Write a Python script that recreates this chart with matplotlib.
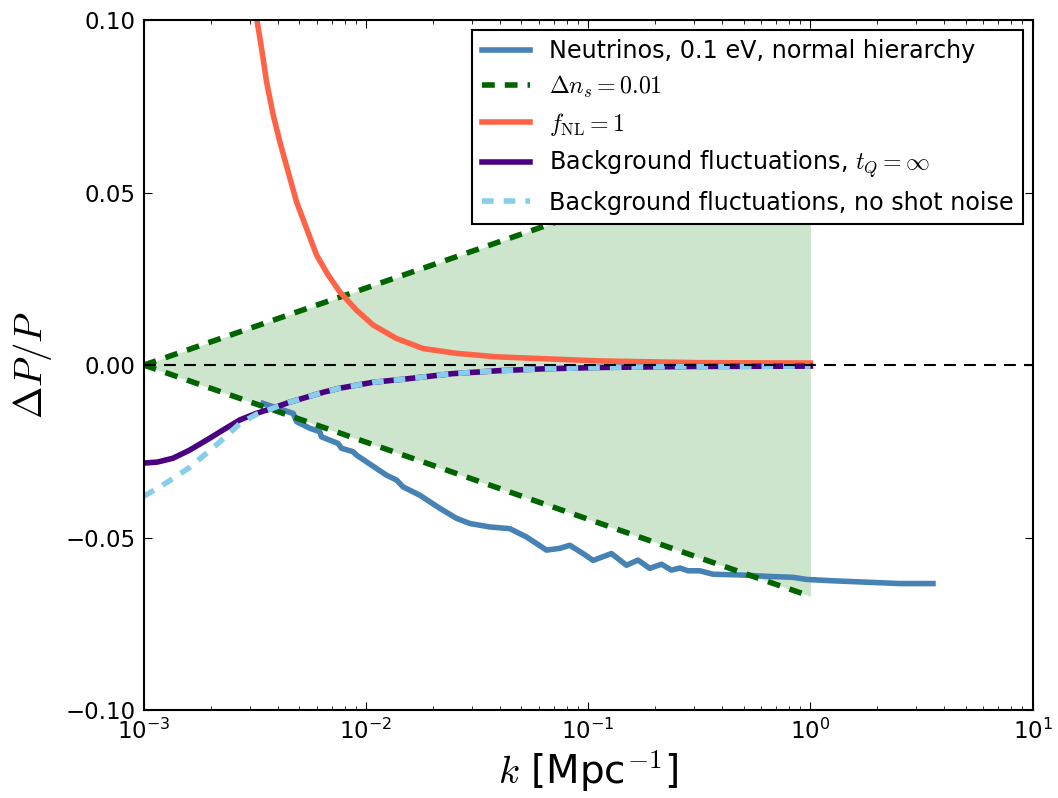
import matplotlib
matplotlib.use("Agg")
import matplotlib.pyplot as plt
from matplotlib.font_manager import FontProperties

# Neutrinos, 0.1 eV, normal hierarchy
k_nu = [3.44e-3, 4.70e-3, 4.87e-3, 5.58e-3, 6.19e-3, 6.30e-3, 7.48e-3, 7.75e-3,
        8.74e-3, 9.06e-3, 0.01236, 0.01371, 0.01468, 0.01745, 0.02147, 0.02553,
        0.0293, 0.03605, 0.04436, 0.05272, 0.06486, 0.07444, 0.08256, 0.09475,
        0.1051, 0.1272, 0.1486, 0.1675, 0.1891, 0.2135, 0.2368, 0.2581, 0.2812,
        0.3175, 0.3644, 0.4805, 0.6336, 0.835, 0.959, 1.264, 1.785, 2.52, 3.56]
dp_nu = [-0.0111, -0.0140, -0.0164, -0.0183, -0.0193, -0.0208, -0.0227, -0.0241,
         -0.0251, -0.0261, -0.0319, -0.0333, -0.0353, -0.0377, -0.0415, -0.0444,
         -0.0459, -0.0469, -0.0474, -0.0498, -0.0536, -0.0531, -0.0522, -0.0546,
         -0.0566, -0.0546, -0.0580, -0.0565, -0.0589, -0.0577, -0.0594, -0.0588,
         -0.0596, -0.0596, -0.0606, -0.0608, -0.0612, -0.0615, -0.0621, -0.0625,
         -0.0629, -0.0633, -0.0633]

# Delta n_s = 0.01 envelope
k_ns = [1e-3, 1.0]
dp_ns_up = [0.0, 0.067]
dp_ns_low = [0.0, -0.067]

# f_NL = 1
k_fnl = [3.15e-3, 3.235e-3, 3.385e-3, 3.565e-3, 3.818e-3, 4.092e-3, 4.46e-3,
         4.864e-3, 5.395e-3, 5.984e-3, 6.75e-3, 7.62e-3, 9.06e-3, 0.01076,
         0.01371, 0.01806, 0.02553, 0.03864, 0.1126, 0.3175, 1.0]
dp_fnl = [0.108, 0.0995, 0.0918, 0.0821, 0.0725, 0.0647, 0.0560, 0.0473, 0.0396,
          0.0319, 0.0261, 0.0212, 0.0159, 0.0116, 0.0077, 0.0048, 0.0034, 0.0024,
          0.0012, 0.0007, 0.0006]

# Background fluctuations, t_Q = infinity
k_bg = [1e-3, 1.15e-3, 1.35e-3, 1.6e-3, 1.92e-3, 2.3e-3, 2.7e-3, 3.2e-3, 3.8e-3,
        4.5e-3, 5.4e-3, 6.4e-3, 7.6e-3, 0.0107, 0.0152, 0.0243, 0.04, 0.062,
        0.11, 0.3, 1.0]
dp_bg = [-0.0284, -0.0281, -0.0270, -0.0247, -0.0217, -0.0186, -0.0159, -0.0140,
         -0.0125, -0.0108, -0.0093, -0.0079, -0.0067, -0.0050, -0.0040, -0.0025,
         -0.0016, -0.0011, -0.0007, -0.0004, -0.0003]

# Background fluctuations, no shot noise
k_bgns = [1e-3, 1.27e-3, 1.61e-3, 2.0e-3, 2.2e-3, 2.7e-3, 3.2e-3, 3.8e-3,
          4.5e-3, 5.4e-3, 6.4e-3, 7.6e-3, 0.0107, 0.0152, 0.0243, 0.04, 0.062,
          0.11, 0.3, 1.0]
dp_bgns = [-0.0380, -0.0340, -0.0296, -0.0245, -0.0222, -0.0170, -0.0143, -0.0125,
           -0.0108, -0.0093, -0.0079, -0.0067, -0.0050, -0.0040, -0.0025, -0.0016,
           -0.0011, -0.0007, -0.0004, -0.0003]

fig = plt.figure(figsize=(10.58, 7.98), dpi=100)
ax = fig.add_axes([0.136, 0.110, 0.840, 0.865])

ax.fill_between(k_ns, dp_ns_low, dp_ns_up, color="green", alpha=0.2, linewidth=0)
ax.plot(k_nu, dp_nu, color="steelblue", lw=4,
        label="Neutrinos, 0.1 eV, normal hierarchy")
ax.plot(k_ns, dp_ns_up, color="darkgreen", lw=4, dashes=(2.3, 1.8),
        label=r"$\Delta n_s = 0.01$")
ax.plot(k_ns, dp_ns_low, color="darkgreen", lw=4, dashes=(2.3, 1.8))
ax.plot(k_fnl, dp_fnl, color="tomato", lw=4, label=r"$f_{\rm NL} = 1$")
ax.plot(k_bg, dp_bg, color="indigo", lw=4,
        label=r"Background fluctuations, $t_Q = \infty$")
ax.plot(k_bgns, dp_bgns, color="skyblue", lw=4, dashes=(2.1, 1.8),
        label="Background fluctuations, no shot noise")
ax.axhline(0, color="black", lw=1.5, dashes=(5.7, 3.9))

ax.set_xscale("log")
ax.set_xlim(1e-3, 1e1)
ax.set_ylim(-0.1, 0.1)
ax.set_yticks([-0.1, -0.05, 0.0, 0.05, 0.1])

ax.tick_params(which="both", direction="in", top=True, right=True, labelsize=16.5)
ax.tick_params(which="major", length=6, pad=6)
ax.tick_params(which="minor", length=3)
for s in ax.spines.values():
    s.set_linewidth(1.5)

ax.set_xlabel(r"$k$ [Mpc$^{-1}$]", fontsize=28, math_fontfamily="cm", labelpad=3)
ax.set_ylabel(r"$\Delta P/P$", fontsize=28, math_fontfamily="cm", labelpad=8)

leg = ax.legend(loc="upper right", prop=FontProperties(size=17.2, math_fontfamily="cm"),
                fancybox=False, framealpha=1, edgecolor="black", borderaxespad=0.4,
                labelspacing=0.45)
leg.get_frame().set_linewidth(1.5)

fig.savefig("out.png", dpi=100)
